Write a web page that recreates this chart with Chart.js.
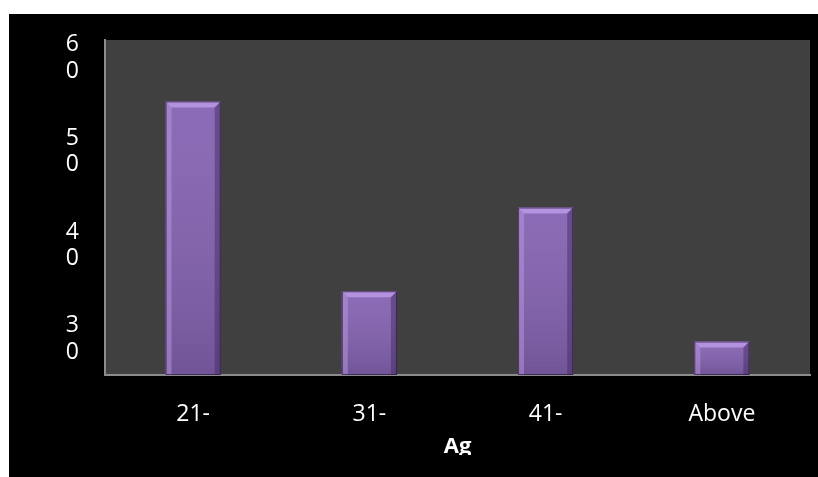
<!DOCTYPE html>
<html>
<head>
<meta charset="utf-8">
<script src="https://cdn.jsdelivr.net/npm/chart.js@4/dist/chart.umd.min.js"></script>
<style>
  html, body { margin: 0; padding: 0; background: #ffffff; overflow: hidden; }
  #box { position: absolute; left: 9px; top: 14px; width: 809px; height: 463px; background: #000000; }
</style>
</head>
<body>
<div id="box"><canvas id="ageChart"></canvas></div>
<script>
const ageGroups = ["21-", "31-", "41-", "Above"];
const shares = [49, 15, 30, 6];
const shareTicks = [30, 40, 50, 60];

const axisGray = "#8c8c8c";
const fontName = "'Open Sans', sans-serif";

// grey plot background
const plotBg = {
  id: "plotBg",
  beforeDraw(chart) {
    const { ctx, chartArea: a } = chart;
    ctx.save();
    ctx.fillStyle = "#404040";
    ctx.fillRect(a.left, a.top, a.right - a.left, a.bottom - a.top);
    ctx.restore();
  },
};

// bevelled look on top of each bar
const bevel = {
  id: "bevel",
  afterDatasetsDraw(chart) {
    const ctx = chart.ctx;
    chart.getDatasetMeta(0).data.forEach((bar) => {
      const l = bar.x - bar.width / 2;
      const r = bar.x + bar.width / 2;
      const t = bar.y;
      const b = bar.base;
      const e = 6;
      ctx.save();
      // body shading
      const g = ctx.createLinearGradient(0, t, 0, b);
      g.addColorStop(0, "rgba(255,255,255,0.06)");
      g.addColorStop(1, "rgba(0,0,0,0.14)");
      ctx.fillStyle = g;
      ctx.fillRect(l, t, r - l, b - t);
      // top face
      ctx.fillStyle = "#b592df";
      ctx.beginPath();
      ctx.moveTo(l, t);
      ctx.lineTo(r, t);
      ctx.lineTo(r - e, t + e);
      ctx.lineTo(l + e, t + e);
      ctx.closePath();
      ctx.fill();
      // left face
      ctx.fillStyle = "rgba(190,160,230,0.45)";
      ctx.beginPath();
      ctx.moveTo(l, t);
      ctx.lineTo(l + e, t + e);
      ctx.lineTo(l + e, b);
      ctx.lineTo(l, b);
      ctx.closePath();
      ctx.fill();
      // right face
      ctx.fillStyle = "rgba(60,40,90,0.45)";
      ctx.beginPath();
      ctx.moveTo(r, t);
      ctx.lineTo(r - e, t + e);
      ctx.lineTo(r - e, b);
      ctx.lineTo(r, b);
      ctx.closePath();
      ctx.fill();
      // outline
      ctx.strokeStyle = "rgba(40,25,60,0.7)";
      ctx.lineWidth = 1;
      ctx.strokeRect(l + 0.5, t + 0.5, r - l - 1, b - t - 1);
      ctx.restore();
    });
  },
};

// the axis title runs off the bottom of the frame
const titleCut = {
  id: "titleCut",
  afterDraw(chart) {
    const ctx = chart.ctx;
    ctx.save();
    ctx.fillStyle = "#000000";
    ctx.fillRect(0, 441, chart.width, chart.height - 441);
    ctx.restore();
  },
};

new Chart(document.getElementById("ageChart"), {
  type: "bar",
  data: {
    labels: ageGroups,
    datasets: [
      {
        data: shares,
        yAxisID: "y",
        backgroundColor: "#8462b1",
        borderWidth: 0,
        categoryPercentage: 1,
        barPercentage: 0.313,
      },
    ],
  },
  options: {
    responsive: true,
    maintainAspectRatio: false,
    animation: false,
    layout: { padding: { top: 26, right: 8, left: 0, bottom: 0 } },
    plugins: {
      legend: { display: false },
      tooltip: { enabled: false },
    },
    scales: {
      x: {
        grid: { display: false },
        border: { color: axisGray, width: 2 },
        ticks: { color: "#ffffff", font: { family: fontName, size: 23 }, padding: 18, maxRotation: 0 },
        title: {
          display: true,
          text: "Ag",
          color: "#ffffff",
          font: { family: fontName, size: 22, weight: "bold" },
          padding: { top: 0, bottom: 17 },
        },
        afterFit(scale) {
          scale.height = 102;
          scale.paddingLeft = 0;
          scale.paddingRight = 0;
        },
      },
      y: {
        display: false,
        min: 0,
        max: 60,
      },
      shareAxis: {
        type: "linear",
        position: "left",
        min: 26.16,
        max: 61.92,
        grid: { display: false },
        border: { color: axisGray, width: 2 },
        afterBuildTicks(scale) {
          scale.ticks = shareTicks.map((v) => ({ value: v }));
        },
        ticks: {
          color: "#ffffff",
          font: { family: fontName, size: 23, lineHeight: 1.15 },
          padding: 18,
          callback: (v) => String(v).split(""),
        },
        afterFit(scale) {
          scale.width = 96;
          scale.paddingTop = 0;
          scale.paddingBottom = 0;
        },
      },
    },
  },
  plugins: [plotBg, bevel, titleCut],
});
</script>
</body>
</html>
